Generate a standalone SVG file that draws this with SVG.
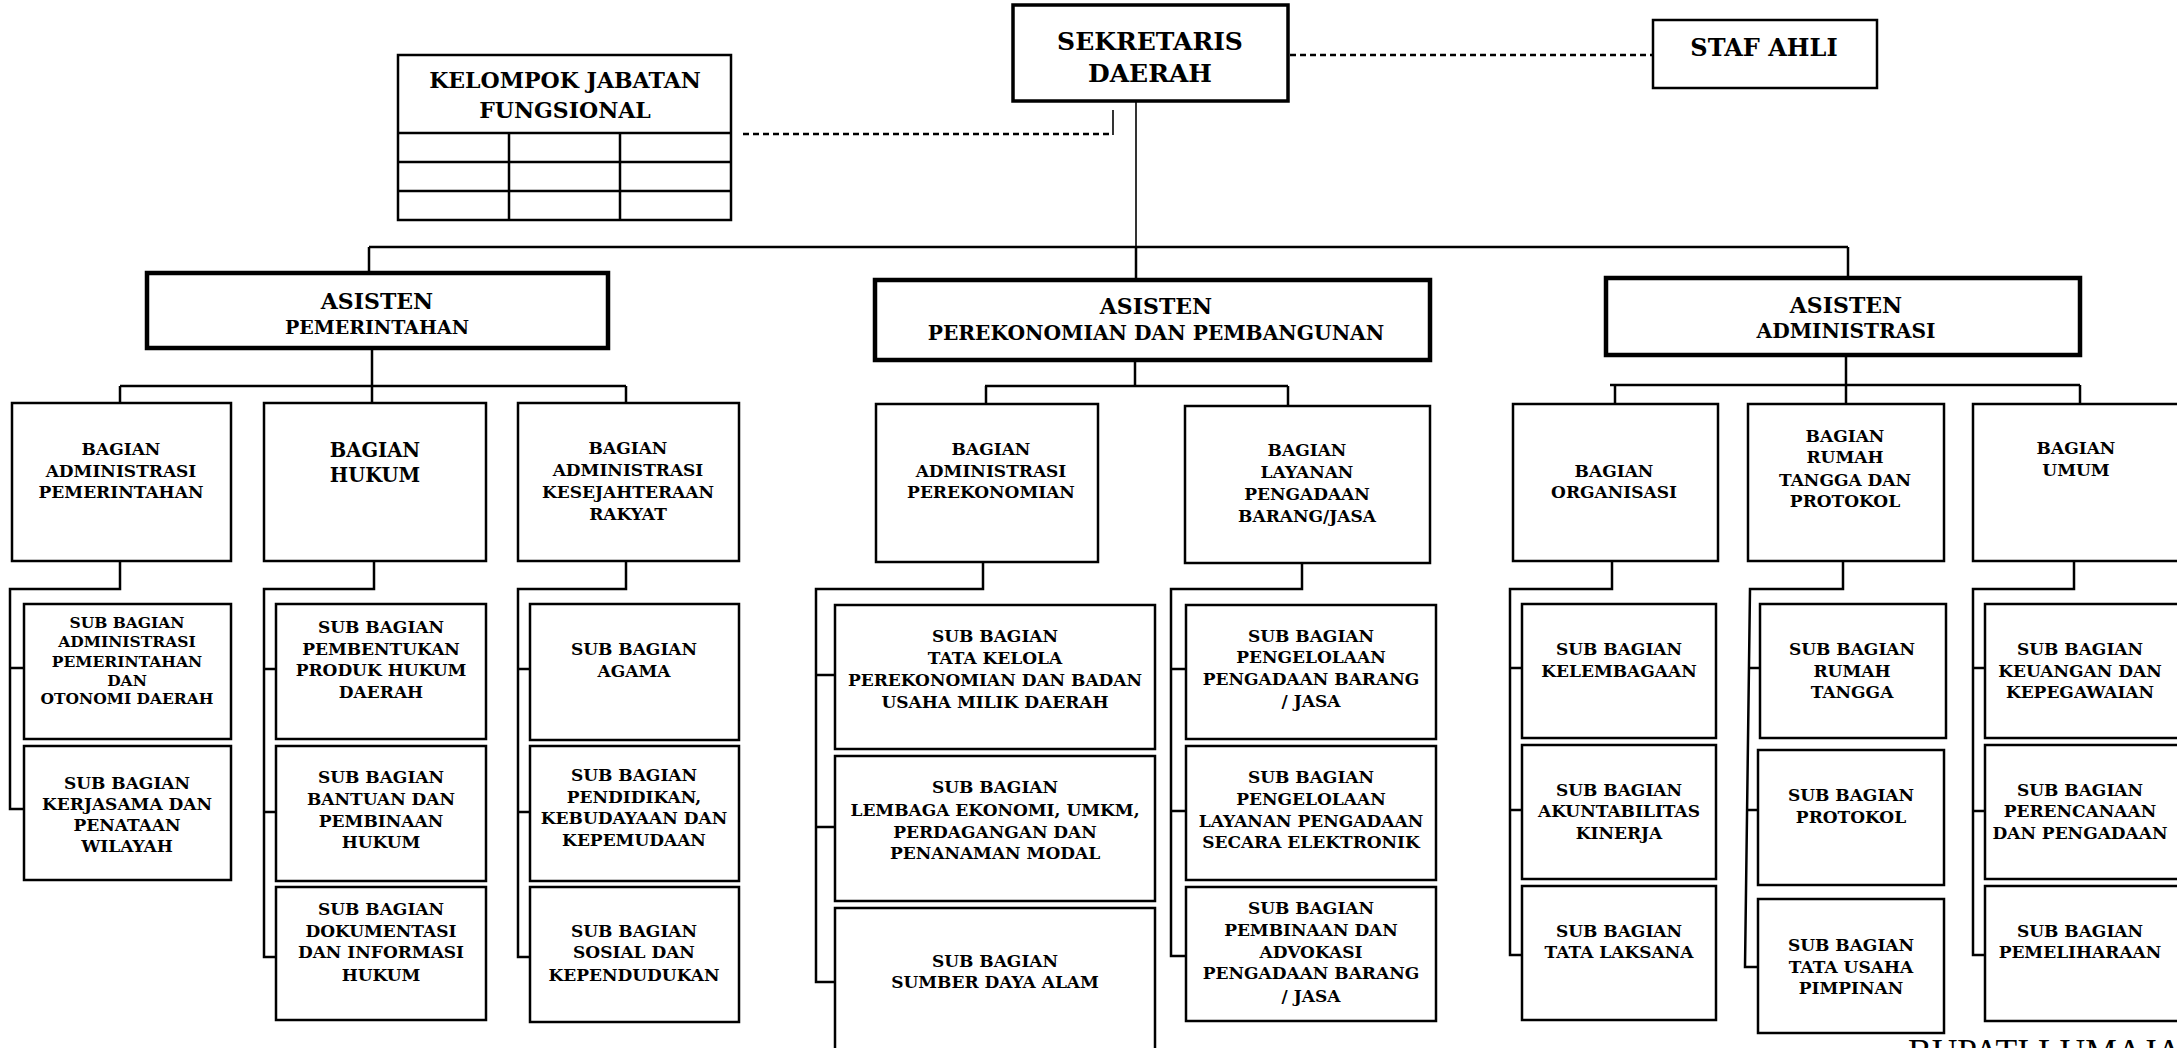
<svg xmlns="http://www.w3.org/2000/svg" width="2177" height="1048" viewBox="0 0 2177 1048">
<style>
.bx{fill:#fff;stroke:#000;stroke-width:2.5}
.bt{fill:#fff;stroke:#000;stroke-width:4.5}
.bm{fill:#fff;stroke:#000;stroke-width:3.5}
.ln{fill:none;stroke:#000;stroke-width:2.5}
.lt{fill:none;stroke:#000;stroke-width:1.6}
.ds{fill:none;stroke:#000;stroke-width:2.5;stroke-dasharray:6 4}
.t{font-family:"DejaVu Serif",serif;font-weight:bold;text-anchor:middle;fill:#000;font-size:17px}
.t15{font-size:15.5px}
.t19{font-size:19.5px}
.t20{font-size:19px}
.t20b{font-size:20.2px}
.t22{font-size:22px}
.tk{font-size:22px}
.ts{font-size:24px}
.t25{font-size:25px}
</style>
<rect width="2177" height="1048" fill="#fff"/>
<g id="connectors">
<path class="ds" d="M1290,55 H1652"/>
<path class="ds" d="M743,134 H1112"/>
<path class="lt" d="M1113,135 V110"/>
<path class="lt" d="M1136,101 V247"/>
<path class="ln" d="M369,247 H1848 M369,247 V273 M1136,247 V280 M1848,247 V278"/>
<path class="ln" d="M372,348 V386 M120,386 H626 M120,386 V403 M372,386 V403 M626,386 V403"/>
<path class="ln" d="M1135,360 V386 M985,386 H1288 M986,386 V404 M1288,386 V406"/>
<path class="ln" d="M1846,355 V385 M1610,385 H2080 M1615,385 V404 M1846,385 V404 M2080,385 V404"/>
<path class="ln" d="M120,561 V589 H10 V809 H24 M10,668 H24"/>
<path class="ln" d="M374,561 V589 H264 V957 H280 M264,669 H280 M264,812 H280"/>
<path class="ln" d="M626,561 V589 H518 V957 H532 M518,669 H532 M518,812 H532"/>
<path class="ln" d="M983,562 V589 H816 V982 H838 M816,675 H838 M816,827 H838"/>
<path class="ln" d="M1302,563 V589 H1171 V956 H1189 M1171,669 H1189 M1171,811 H1189"/>
<path class="ln" d="M1612,561 V589 H1510 V955 H1524 M1510,668 H1524 M1510,810 H1524"/>
<path class="ln" d="M1843,561 V589 H1750 L1745,967 H1760 M1749,668 H1760 M1748,810 H1760"/>
<path class="ln" d="M2074,561 V589 H1973 V955 H1987 M1973,668 H1987 M1973,811 H1987"/>
</g>
<g id="sekretaris-daerah"><rect class="bm" x="1013" y="5" width="275" height="96"/><text class="t t25"><tspan x="1150" y="50">SEKRETARIS</tspan><tspan x="1150" y="82">DAERAH</tspan></text></g>
<g id="staf-ahli"><rect class="bx" x="1653" y="20" width="224" height="68"/><text class="t ts" x="1764" y="56">STAF AHLI</text></g>
<g id="kelompok-jabatan-fungsional"><rect class="bx" x="398" y="55" width="333" height="165"/><path class="ln" d="M398,133 H731 M398,162 H731 M398,191 H731 M509,133 V220 M620,133 V220"/><text class="t tk"><tspan x="565" y="88">KELOMPOK JABATAN</tspan><tspan x="565" y="118">FUNGSIONAL</tspan></text></g>
<g id="asisten-pemerintahan"><rect class="bt" x="147" y="273" width="461" height="75"/><text class="t"><tspan class="t22" x="377" y="309">ASISTEN</tspan><tspan class="t20" x="377" y="334">PEMERINTAHAN</tspan></text></g>
<g id="asisten-perekonomian"><rect class="bt" x="875" y="280" width="555" height="80"/><text class="t"><tspan class="t22" x="1156" y="314">ASISTEN</tspan><tspan class="t20b" x="1156" y="340">PEREKONOMIAN DAN PEMBANGUNAN</tspan></text></g>
<g id="asisten-administrasi"><rect class="bt" x="1606" y="278" width="474" height="77"/><text class="t"><tspan class="t22" x="1846" y="313">ASISTEN</tspan><tspan class="t20b" x="1846" y="338">ADMINISTRASI</tspan></text></g>
<g id="bagian-adm-pemerintahan"><rect class="bx" x="12" y="403" width="219" height="158"/><text class="t"><tspan x="121" y="455">BAGIAN</tspan><tspan x="121" y="477">ADMINISTRASI</tspan><tspan x="121" y="498">PEMERINTAHAN</tspan></text></g>
<g id="bagian-hukum"><rect class="bx" x="264" y="403" width="222" height="158"/><text class="t t19"><tspan x="375" y="457">BAGIAN</tspan><tspan x="375" y="482">HUKUM</tspan></text></g>
<g id="bagian-kesra"><rect class="bx" x="518" y="403" width="221" height="158"/><text class="t"><tspan x="628" y="454">BAGIAN</tspan><tspan x="628" y="476">ADMINISTRASI</tspan><tspan x="628" y="498">KESEJAHTERAAN</tspan><tspan x="628" y="520">RAKYAT</tspan></text></g>
<g id="bagian-adm-perekonomian"><rect class="bx" x="876" y="404" width="222" height="158"/><text class="t"><tspan x="991" y="455">BAGIAN</tspan><tspan x="991" y="477">ADMINISTRASI</tspan><tspan x="991" y="498">PEREKONOMIAN</tspan></text></g>
<g id="bagian-lpbj"><rect class="bx" x="1185" y="406" width="245" height="157"/><text class="t"><tspan x="1307" y="456">BAGIAN</tspan><tspan x="1307" y="478">LAYANAN</tspan><tspan x="1307" y="500">PENGADAAN</tspan><tspan x="1307" y="522">BARANG/JASA</tspan></text></g>
<g id="bagian-organisasi"><rect class="bx" x="1513" y="404" width="205" height="157"/><text class="t"><tspan x="1614" y="477">BAGIAN</tspan><tspan x="1614" y="498">ORGANISASI</tspan></text></g>
<g id="bagian-rumah-tangga"><rect class="bx" x="1748" y="404" width="196" height="157"/><text class="t"><tspan x="1845" y="442">BAGIAN</tspan><tspan x="1845" y="463">RUMAH</tspan><tspan x="1845" y="486">TANGGA DAN</tspan><tspan x="1845" y="507">PROTOKOL</tspan></text></g>
<g id="bagian-umum"><rect class="bx" x="1973" y="404" width="230" height="157"/><text class="t"><tspan x="2076" y="454">BAGIAN</tspan><tspan x="2076" y="476">UMUM</tspan></text></g>
<g id="sub-adm-pem-otda"><rect class="bx" x="24" y="604" width="207" height="135"/><text class="t t15"><tspan x="127" y="628">SUB BAGIAN</tspan><tspan x="127" y="647">ADMINISTRASI</tspan><tspan x="127" y="667">PEMERINTAHAN</tspan><tspan x="127" y="686">DAN</tspan><tspan x="127" y="704">OTONOMI DAERAH</tspan></text></g>
<g id="sub-kerjasama"><rect class="bx" x="24" y="746" width="207" height="134"/><text class="t"><tspan x="127" y="789">SUB BAGIAN</tspan><tspan x="127" y="810">KERJASAMA DAN</tspan><tspan x="127" y="831">PENATAAN</tspan><tspan x="127" y="852">WILAYAH</tspan></text></g>
<g id="sub-produk-hukum"><rect class="bx" x="276" y="604" width="210" height="135"/><text class="t"><tspan x="381" y="633">SUB BAGIAN</tspan><tspan x="381" y="655">PEMBENTUKAN</tspan><tspan x="381" y="676">PRODUK HUKUM</tspan><tspan x="381" y="698">DAERAH</tspan></text></g>
<g id="sub-bantuan-hukum"><rect class="bx" x="276" y="746" width="210" height="135"/><text class="t"><tspan x="381" y="783">SUB BAGIAN</tspan><tspan x="381" y="805">BANTUAN DAN</tspan><tspan x="381" y="827">PEMBINAAN</tspan><tspan x="381" y="848">HUKUM</tspan></text></g>
<g id="sub-dokumentasi"><rect class="bx" x="276" y="887" width="210" height="133"/><text class="t"><tspan x="381" y="915">SUB BAGIAN</tspan><tspan x="381" y="937">DOKUMENTASI</tspan><tspan x="381" y="958">DAN INFORMASI</tspan><tspan x="381" y="981">HUKUM</tspan></text></g>
<g id="sub-agama"><rect class="bx" x="530" y="604" width="209" height="136"/><text class="t"><tspan x="634" y="655">SUB BAGIAN</tspan><tspan x="634" y="677">AGAMA</tspan></text></g>
<g id="sub-pendidikan"><rect class="bx" x="530" y="746" width="209" height="135"/><text class="t"><tspan x="634" y="781">SUB BAGIAN</tspan><tspan x="634" y="803">PENDIDIKAN,</tspan><tspan x="634" y="824">KEBUDAYAAN DAN</tspan><tspan x="634" y="846">KEPEMUDAAN</tspan></text></g>
<g id="sub-sosial"><rect class="bx" x="530" y="887" width="209" height="135"/><text class="t"><tspan x="634" y="937">SUB BAGIAN</tspan><tspan x="634" y="958">SOSIAL DAN</tspan><tspan x="634" y="981">KEPENDUDUKAN</tspan></text></g>
<g id="sub-tata-kelola"><rect class="bx" x="835" y="605" width="320" height="144"/><text class="t"><tspan x="995" y="642">SUB BAGIAN</tspan><tspan x="995" y="664">TATA KELOLA</tspan><tspan x="995" y="686">PEREKONOMIAN DAN BADAN</tspan><tspan x="995" y="708">USAHA MILIK DAERAH</tspan></text></g>
<g id="sub-lembaga-ekonomi"><rect class="bx" x="835" y="756" width="320" height="145"/><text class="t"><tspan x="995" y="793">SUB BAGIAN</tspan><tspan x="995" y="816">LEMBAGA EKONOMI, UMKM,</tspan><tspan x="995" y="838">PERDAGANGAN DAN</tspan><tspan x="995" y="859">PENANAMAN MODAL</tspan></text></g>
<g id="sub-sda"><rect class="bx" x="835" y="908" width="320" height="160"/><text class="t"><tspan x="995" y="967">SUB BAGIAN</tspan><tspan x="995" y="988">SUMBER DAYA ALAM</tspan></text></g>
<g id="sub-pengelolaan-pbj"><rect class="bx" x="1186" y="605" width="250" height="134"/><text class="t"><tspan x="1311" y="642">SUB BAGIAN</tspan><tspan x="1311" y="663">PENGELOLAAN</tspan><tspan x="1311" y="685">PENGADAAN BARANG</tspan><tspan x="1311" y="707">/ JASA</tspan></text></g>
<g id="sub-lpse"><rect class="bx" x="1186" y="746" width="250" height="134"/><text class="t"><tspan x="1311" y="783">SUB BAGIAN</tspan><tspan x="1311" y="805">PENGELOLAAN</tspan><tspan x="1311" y="827">LAYANAN PENGADAAN</tspan><tspan x="1311" y="848">SECARA ELEKTRONIK</tspan></text></g>
<g id="sub-advokasi"><rect class="bx" x="1186" y="887" width="250" height="134"/><text class="t"><tspan x="1311" y="914">SUB BAGIAN</tspan><tspan x="1311" y="936">PEMBINAAN DAN</tspan><tspan x="1311" y="958">ADVOKASI</tspan><tspan x="1311" y="979">PENGADAAN BARANG</tspan><tspan x="1311" y="1002">/ JASA</tspan></text></g>
<g id="sub-kelembagaan"><rect class="bx" x="1522" y="604" width="194" height="134"/><text class="t"><tspan x="1619" y="655">SUB BAGIAN</tspan><tspan x="1619" y="677">KELEMBAGAAN</tspan></text></g>
<g id="sub-akuntabilitas"><rect class="bx" x="1522" y="745" width="194" height="134"/><text class="t"><tspan x="1619" y="796">SUB BAGIAN</tspan><tspan x="1619" y="817">AKUNTABILITAS</tspan><tspan x="1619" y="839">KINERJA</tspan></text></g>
<g id="sub-tata-laksana"><rect class="bx" x="1522" y="886" width="194" height="134"/><text class="t"><tspan x="1619" y="937">SUB BAGIAN</tspan><tspan x="1619" y="958">TATA LAKSANA</tspan></text></g>
<g id="sub-rumah-tangga"><rect class="bx" x="1760" y="604" width="186" height="134"/><text class="t"><tspan x="1852" y="655">SUB BAGIAN</tspan><tspan x="1852" y="677">RUMAH</tspan><tspan x="1852" y="698">TANGGA</tspan></text></g>
<g id="sub-protokol"><rect class="bx" x="1758" y="750" width="186" height="135"/><text class="t"><tspan x="1851" y="801">SUB BAGIAN</tspan><tspan x="1851" y="823">PROTOKOL</tspan></text></g>
<g id="sub-tata-usaha"><rect class="bx" x="1758" y="899" width="186" height="134"/><text class="t"><tspan x="1851" y="951">SUB BAGIAN</tspan><tspan x="1851" y="973">TATA USAHA</tspan><tspan x="1851" y="994">PIMPINAN</tspan></text></g>
<g id="sub-keuangan"><rect class="bx" x="1985" y="604" width="220" height="134"/><text class="t"><tspan x="2080" y="655">SUB BAGIAN</tspan><tspan x="2080" y="677">KEUANGAN DAN</tspan><tspan x="2080" y="698">KEPEGAWAIAN</tspan></text></g>
<g id="sub-perencanaan"><rect class="bx" x="1985" y="745" width="220" height="134"/><text class="t"><tspan x="2080" y="796">SUB BAGIAN</tspan><tspan x="2080" y="817">PERENCANAAN</tspan><tspan x="2080" y="839">DAN PENGADAAN</tspan></text></g>
<g id="sub-pemeliharaan"><rect class="bx" x="1985" y="886" width="220" height="135"/><text class="t"><tspan x="2080" y="937">SUB BAGIAN</tspan><tspan x="2080" y="958">PEMELIHARAAN</tspan></text></g>
<text x="1908" y="1064" style="font-family:'Liberation Serif',serif;font-size:35.5px;fill:#000">BUPATI LUMAJANG</text>
</svg>
